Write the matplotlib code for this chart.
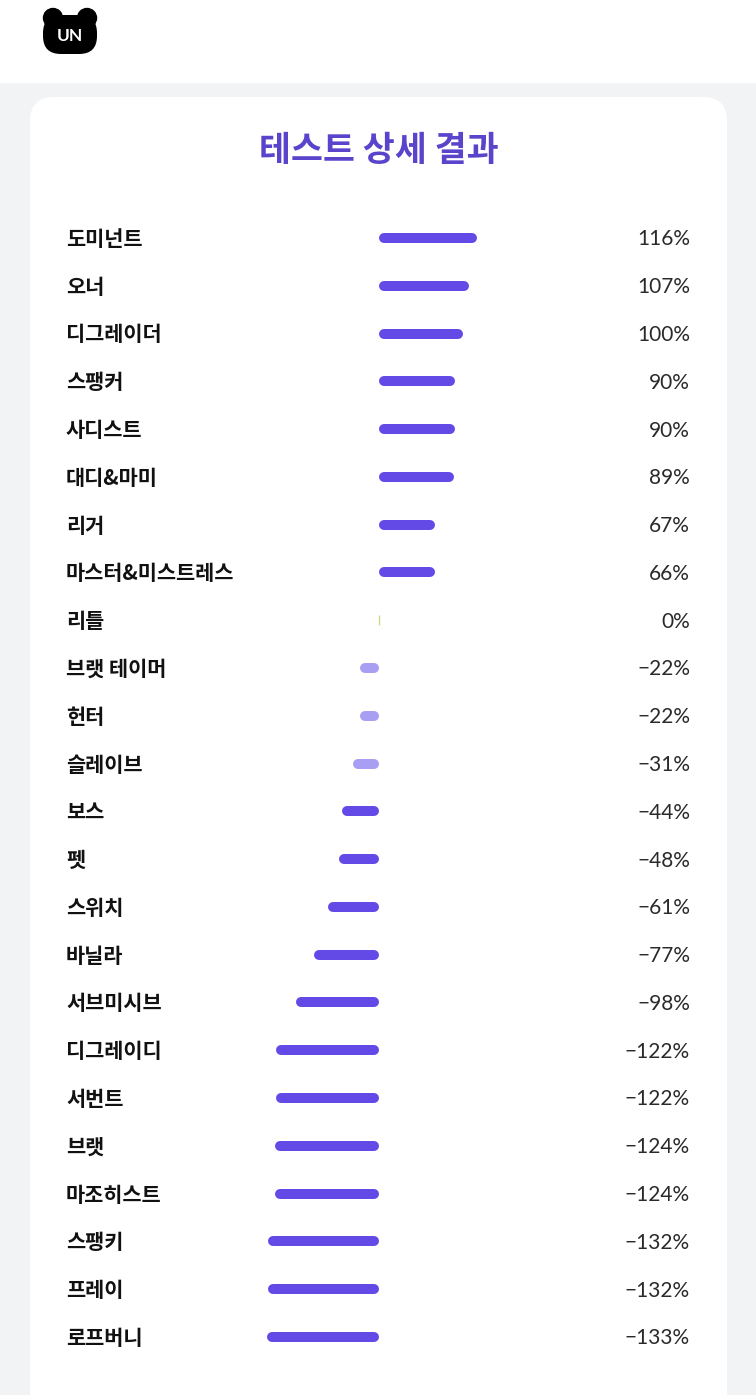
import numpy as np
import matplotlib.pyplot as plt
from matplotlib.patches import FancyBboxPatch, Circle, Rectangle
from matplotlib.transforms import blended_transform_factory

# ─────────────────────────────────────────
# DATA
# ─────────────────────────────────────────
categories = ['도미넌트', '오너', '디그레이더', '스팽커', '사디스트', '대디&마미', '리거',
              '마스터&미스트레스', '리틀', '브랫 테이머', '헌터', '슬레이브', '보스', '펫',
              '스위치', '바닐라', '서브미시브', '디그레이디', '서번트', '브랫', '마조히스트',
              '스팽키', '프레이', '로프버니']
values = [116, 107, 100, 90, 90, 89, 67, 66, 0, -22, -22, -31, -44, -48,
          -61, -77, -98, -122, -122, -124, -124, -132, -132, -133]

title = '테스트 상세 결과'

DARK = '#634ae7'
LIGHT = '#a89ef3'
ZERO = '#cdd98c'
KR = ['Noto Sans CJK KR', 'DejaVu Sans']

W, H = 756, 1395
fig = plt.figure(figsize=(W / 100, H / 100), dpi=100)

# ─────────────────────────────────────────
# BACKGROUND (pixel coordinates)
# ─────────────────────────────────────────
bg = fig.add_axes([0, 0, 1, 1])
bg.set_xlim(0, W)
bg.set_ylim(H, 0)
bg.axis('off')
bg.add_patch(Rectangle((0, 0), W, H, color='#f2f3f5', zorder=0))
bg.add_patch(Rectangle((0, 0), W, 82, color='white', zorder=1))
bg.add_patch(FancyBboxPatch((30, 97), 697, 1400, boxstyle='round,pad=0,rounding_size=24',
                            facecolor='white', edgecolor='none', zorder=1))

# bear logo
bg.add_patch(Circle((53, 18), 9.5, color='black', zorder=2))
bg.add_patch(Circle((87, 18), 9.5, color='black', zorder=2))
bg.add_patch(FancyBboxPatch((43, 15), 54, 39, boxstyle='round,pad=0,rounding_size=18',
                            facecolor='black', edgecolor='none', zorder=3))
bg.text(70, 36, 'UN', color='white', fontsize=12.5, fontweight='bold',
        ha='center', va='center', family=['Lato', 'DejaVu Sans'], zorder=4)

bg.text(379, 151, title, color='#5a44cc', fontsize=25, fontweight='bold',
        ha='center', va='center', family=KR, zorder=4)

# ─────────────────────────────────────────
# BARS
# ─────────────────────────────────────────
px_per_pct = 0.842
zero_px = 379
row0, row_step = 238, 47.78

ax = fig.add_axes([0, 0, 1, 1])
ax.patch.set_alpha(0)
ax.axis('off')
ax.set_xlim(-zero_px / px_per_pct, (W - zero_px) / px_per_pct)
ax.set_ylim((H - row0) / row_step, -row0 / row_step)

cap = 5 / px_per_pct  # round cap radius in data units
y = np.arange(len(categories))
for yi, v in zip(y, values):
    if v == 0:
        ax.vlines(0, yi - 0.1, yi + 0.1, color=ZERO, lw=1, zorder=5)
        continue
    col = LIGHT if abs(v) < 35 else DARK
    s = np.sign(v)
    ax.plot([s * cap, v - s * cap], [yi, yi], color=col, lw=7.2,
            solid_capstyle='round', zorder=5)

lab_tr = blended_transform_factory(fig.transFigure, ax.transData)
for yi, name, v in zip(y, categories, values):
    ax.text(66 / W, yi + 0.03, name, transform=lab_tr, ha='left', va='center',
            fontsize=15, fontweight='bold', color='#111111', family=KR)
    ax.text(690 / W, yi + 0.03, f'{v}%'.replace('-', '−'), transform=lab_tr, ha='right',
            va='center', fontsize=15, fontweight='normal', color='#2a2a2a',
            family=['Lato', 'DejaVu Sans'])

fig.savefig('out.png', dpi=100)
